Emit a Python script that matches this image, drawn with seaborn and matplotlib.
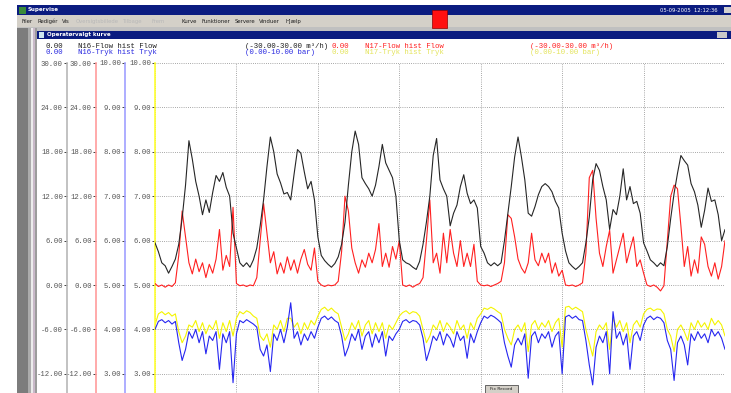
import numpy as np
import pandas as pd
import seaborn as sns
import matplotlib.pyplot as plt
from matplotlib.patches import Rectangle
from matplotlib.ticker import FormatStrFormatter

# ---- hourly trend samples, 7 days ----
# N16 flow, m3/h
n16_flow = ([5.7, 4.5, 3.0, 2.6, 1.6, 2.5, 3.5, 5.5, 9.0, 13.5, 19.5, 17.0, 14.0, 12.0, 9.5, 11.5, 9.8, 12.5, 14.8, 14.0, 15.2, 13.2, 12.0, 7.0, 5.0]
            + [3.0, 2.5, 3.0, 2.4, 3.4, 5.0, 8.0, 11.5, 16.0, 20.0, 18.0, 15.0, 13.8, 12.3, 12.5, 11.5, 15.0, 18.3, 17.8, 15.3, 13.0, 14.0, 11.5, 6.5]
            + [4.0, 3.3, 2.8, 2.4, 2.9, 3.8, 5.5, 8.5, 13.5, 18.0, 20.8, 19.0, 14.5, 13.7, 13.0, 12.0, 13.5, 16.0, 19.0, 16.5, 15.5, 14.5, 12.0, 6.0]
            + [3.4, 3.0, 2.8, 2.4, 2.1, 3.2, 5.5, 8.5, 12.0, 17.5, 19.8, 14.2, 13.0, 12.0, 8.0, 9.7, 10.8, 13.3, 14.9, 12.4, 11.0, 11.5, 10.4, 5.2]
            + [4.3, 3.0, 2.6, 3.0, 2.6, 3.0, 6.0, 9.7, 13.3, 17.3, 20.0, 17.3, 14.2, 9.7, 9.3, 10.6, 12.2, 13.3, 13.7, 13.3, 12.6, 11.3, 10.4, 7.0]
            + [4.6, 3.0, 2.5, 2.1, 2.5, 3.0, 5.7, 9.2, 14.2, 16.4, 15.5, 13.3, 11.5, 7.5, 10.2, 9.5, 12.0, 15.7, 11.5, 13.3, 11.0, 11.3, 9.7, 5.7]
            + [4.6, 3.4, 3.0, 2.5, 3.0, 2.6, 5.2, 9.0, 12.4, 15.1, 17.5, 16.8, 16.2, 13.7, 12.6, 10.8, 7.8, 10.1, 13.1, 11.3, 11.5, 9.5, 6.0, 7.5])

# N17 flow, m3/h
n17_flow = ([0.2, -0.2, 0.0, -0.3, 0.0, -0.2, 0.3, 4.0, 10.0, 6.5, 3.0, 1.5, 3.5, 1.8, 3.0, 1.0, 2.8, 1.6, 3.5, 7.5, 2.0, 4.0, 2.5, 10.5, 0.2]
            + [-0.1, 0.0, -0.2, 0.0, -0.1, 1.0, 6.0, 11.0, 7.0, 3.0, 4.5, 1.5, 3.0, 1.6, 3.8, 2.0, 3.4, 1.6, 3.5, 4.8, 2.8, 2.0, 5.0, 0.5]
            + [0.0, -0.2, 0.0, -0.1, 0.0, 0.5, 4.5, 12.0, 10.0, 5.0, 3.0, 1.6, 3.4, 2.4, 4.3, 3.0, 4.8, 8.3, 2.5, 4.3, 2.4, 5.2, 3.5, 6.0]
            + [0.0, -0.2, 0.0, -0.3, 0.0, 0.2, 1.0, 6.0, 11.5, 3.0, 4.3, 1.6, 7.0, 3.0, 7.5, 4.3, 2.5, 6.0, 2.5, 4.3, 2.5, 5.5, 0.5, 0.0]
            + [-0.1, 0.0, -0.2, 0.0, 0.2, 0.5, 3.0, 9.5, 9.0, 6.5, 3.5, 2.3, 1.6, 3.0, 7.0, 3.4, 2.6, 4.3, 3.0, 4.3, 1.6, 3.0, 1.2, 2.0]
            + [0.0, -0.1, 0.0, -0.2, 0.0, 0.3, 4.3, 14.5, 15.5, 9.0, 4.3, 2.5, 5.2, 7.4, 1.6, 3.4, 5.2, 7.0, 3.0, 4.8, 6.5, 2.5, 3.4, 1.6]
            + [0.0, -0.2, 0.0, -0.3, -0.8, -0.1, 6.0, 12.0, 13.5, 13.0, 8.0, 2.5, 5.2, 1.2, 3.4, 1.6, 6.5, 5.5, 2.5, 1.2, 3.0, 0.8, 2.5, 6.0])

# N16 pressure, bar
n16_tryk = ([4.00, 4.18, 4.22, 4.15, 4.20, 4.12, 4.18, 3.70, 3.30, 3.55, 3.95, 3.80, 4.00, 3.70, 3.95, 3.45, 3.85, 3.75, 3.95, 3.10, 3.90, 3.70, 3.95, 2.80, 3.90]
            + [4.20, 4.15, 4.22, 4.17, 4.12, 4.05, 3.55, 3.40, 3.65, 3.05, 3.90, 3.75, 4.00, 3.70, 4.05, 4.60, 3.80, 3.95, 3.65, 3.90, 3.75, 3.95, 3.80, 4.05]
            + [4.25, 4.30, 4.22, 4.28, 4.20, 4.15, 3.85, 3.40, 3.60, 3.90, 3.75, 4.00, 3.55, 3.85, 3.95, 3.60, 3.90, 3.70, 3.95, 3.40, 3.85, 3.75, 3.90, 4.00]
            + [4.18, 4.22, 4.15, 4.20, 4.18, 4.10, 3.80, 3.30, 3.55, 3.85, 3.75, 3.95, 3.65, 3.90, 3.80, 3.60, 3.95, 3.75, 3.85, 3.35, 3.90, 3.70, 3.95, 4.15]
            + [4.30, 4.25, 4.32, 4.28, 4.22, 4.15, 3.70, 3.40, 3.15, 3.65, 3.80, 3.65, 3.90, 2.90, 3.85, 3.95, 3.70, 3.90, 3.80, 3.95, 3.60, 3.85, 3.95, 3.00]
            + [4.28, 4.32, 4.25, 4.30, 4.22, 4.20, 3.75, 3.20, 2.75, 3.60, 3.85, 3.70, 3.95, 3.00, 4.40, 3.80, 3.95, 3.65, 3.90, 3.10, 3.85, 3.95, 3.75, 4.10]
            + [4.25, 4.30, 4.22, 4.28, 4.25, 4.15, 3.75, 3.55, 2.85, 3.70, 3.85, 3.65, 3.20, 3.90, 3.75, 3.95, 3.80, 3.90, 3.70, 4.00, 3.85, 3.95, 3.80, 3.55])

# N17 pressure, bar
n17_tryk = ([4.10, 4.35, 4.40, 4.33, 4.38, 4.30, 4.35, 3.95, 3.70, 3.85, 4.10, 4.05, 4.20, 3.95, 4.15, 3.90, 4.10, 4.00, 4.20, 3.80, 4.15, 3.95, 4.20, 3.85, 4.25]
            + [4.40, 4.35, 4.42, 4.38, 4.30, 4.25, 3.85, 3.75, 3.90, 3.60, 4.10, 4.00, 4.20, 3.95, 4.25, 4.25, 4.05, 4.15, 3.90, 4.15, 4.00, 4.20, 4.10, 4.30]
            + [4.45, 4.50, 4.42, 4.48, 4.40, 4.35, 4.05, 3.75, 3.90, 4.15, 4.00, 4.20, 3.85, 4.10, 4.20, 3.90, 4.15, 3.95, 4.15, 3.80, 4.10, 4.00, 4.15, 4.30]
            + [4.38, 4.42, 4.35, 4.40, 4.38, 4.30, 4.00, 3.70, 3.85, 4.10, 4.00, 4.20, 3.95, 4.15, 4.05, 3.90, 4.20, 4.00, 4.10, 3.80, 4.15, 4.00, 4.25, 4.35]
            + [4.48, 4.45, 4.50, 4.46, 4.40, 4.35, 4.00, 3.80, 3.65, 4.00, 4.10, 3.95, 4.15, 3.50, 4.10, 4.20, 4.00, 4.15, 4.05, 4.20, 3.95, 4.15, 4.25, 3.60]
            + [4.50, 4.52, 4.45, 4.50, 4.45, 4.40, 4.00, 3.70, 3.40, 3.95, 4.10, 4.00, 4.15, 3.55, 4.25, 4.05, 4.20, 3.95, 4.15, 3.70, 4.10, 4.20, 4.05, 4.35]
            + [4.45, 4.48, 4.42, 4.46, 4.45, 4.35, 4.00, 3.85, 3.50, 4.00, 4.10, 3.95, 3.75, 4.15, 4.00, 4.20, 4.05, 4.15, 4.00, 4.25, 4.10, 4.20, 4.10, 3.85])

menu_items = ["Filer", "Redigér", "Vis", "Kurve", "Funktioner", "Servere", "Vinduer", "Hjælp"]
menu_x = [21, 37, 62, 182, 202, 235, 259, 285]

df = pd.DataFrame({"hour": np.arange(len(n16_flow)),
                   "n16_flow": n16_flow, "n17_flow": n17_flow,
                   "n16_tryk": n16_tryk, "n17_tryk": n17_tryk})

sns.set_style("white")
plt.rcParams['font.family'] = ['Liberation Mono', 'DejaVu Sans Mono']

W, H = 731, 393
fig = plt.figure(figsize=(W / 100, H / 100), dpi=100)

# background layer in pixel coords: window chrome
bg = fig.add_axes([0, 0, 1, 1])
bg.set_xlim(0, W)
bg.set_ylim(H, 0)
bg.axis('off')


def box(a, x0, y0, x1, y1, fc, ec='none', lw=0):
    a.add_patch(Rectangle((x0, y0), x1 - x0, y1 - y0, facecolor=fc, edgecolor=ec, lw=lw))


navy = '#0b1c80'
box(bg, 17, 5, W, 15, navy)                       # main title bar
box(bg, 19, 6.5, 26, 13.5, '#3a8a3a')             # app icon
bg.text(28, 10, "Supervise", color='white', fontsize=4, fontweight='bold',
        family='DejaVu Sans', va='center')
bg.text(718, 10, "05-09-2005  12:12:36", color='white', fontsize=3.8,
        family='DejaVu Sans', va='center', ha='right')
box(bg, 724, 7, 731, 13, '#d0d0d0')
box(bg, 17, 15, W, 31, '#d4d0c8')                 # menu bar
for name, mx in zip(menu_items, menu_x):
    bg.text(mx, 21.5, name, fontsize=3.9, family='DejaVu Sans', va='center', color='#202020')
for name, mx in zip(["Oversigtsbillede", "Tilbage", "Frem"], [76, 122, 152]):
    bg.text(mx, 21.5, name, fontsize=3.9, family='DejaVu Sans', va='center', color='#b8b8b8')
box(bg, 17, 27, W, 31, '#c0c0c0')
box(bg, 17, 28, 28, H, '#7c7c7c')                 # left frame
box(bg, 28, 28, 31, H, '#ababab')
box(bg, 31, 28, 33, H, '#ececec')
box(bg, 33, 28, 35, H, '#c9b9c9')
box(bg, 35, 28, 37, H, '#9c9c9c')
box(bg, 37, 31, W, 38.5, navy)                    # child title bar
box(bg, 39, 32, 44, 37.5, '#cfe8f0')
bg.text(47, 34.8, "Operatørvalgt kurve", color='white', fontsize=4, fontweight='bold',
        family='DejaVu Sans', va='center')
box(bg, 717, 32, 727, 37.5, '#c8c8c8')
box(bg, 432, 10, 447, 28, '#ff1010', ec='#900000', lw=0.5)   # alarm box

# header lines with the curve names
hdr = [(46.5, '#202020', "N16-Flow hist Flow", "(-30.00-30.00 m³/h)"),
       (53.0, '#2a2ae0', "N16-Tryk hist Tryk", "(0.00-10.00 bar)")]
hdr2 = [(46.5, '#ff2020', "N17-Flow hist Flow", "(-30.00-30.00 m³/h)"),
        (53.0, '#e4e45c', "N17-Tryk hist Tryk", "(0.00-10.00 bar)")]
for (yy, c, name, rng), (_, c2, name2, rng2) in zip(hdr, hdr2):
    bg.text(45, yy, "0.00", color=c, fontsize=5.3, va='center')
    bg.text(78, yy, name, color=c, fontsize=5.3, va='center')
    bg.text(245, yy, rng, color=c, fontsize=5.3, va='center')
    bg.text(332, yy, "0.00", color=c2, fontsize=5.3, va='center')
    bg.text(365, yy, name2, color=c2, fontsize=5.3, va='center')
    bg.text(530, yy, rng2, color=c2, fontsize=5.3, va='center')

# ---- trend area: N17 pressure axis is the base (yellow) ----
ax = fig.add_axes([155 / W, 1 - 507 / H, 570 / W, 444 / H])
ax.set_facecolor('none')
sns.lineplot(data=df, x='hour', y='n17_tryk', ax=ax, color='#f4f400', lw=0.8)
ax.set_xlim(0, 168)
ax.set_ylim(0, 10)
ax.set_xticks(range(0, 169, 24))
ax.grid(True, color='#8a8a8a', linestyle=(0, (1, 1.6)), lw=0.6)
ax.tick_params(axis='x', length=0, labelbottom=False)
label_color = '#555555'


def style_axis(a, color, lim, first, step):
    # only the ticks that fall inside the visible part of the screen
    a.set_ylim(*lim)
    a.set_yticks(np.arange(first, lim[1] + step / 2, step))
    a.yaxis.set_major_formatter(FormatStrFormatter('%.2f'))
    a.tick_params(axis='y', left=True, right=False, labelleft=True, labelright=False,
                  length=2.5, width=0.7, color='#404040', labelsize=5.2,
                  labelcolor=label_color, pad=0.5, direction='out')
    for s in ['top', 'right', 'bottom']:
        a.spines[s].set_visible(False)
    a.spines['left'].set_visible(True)
    a.spines['left'].set_color(color)
    a.spines['left'].set_linewidth(1.2)
    a.set_xlabel('')
    a.set_ylabel('')


style_axis(ax, '#ffff30', (0, 10), 3, 1)

# extra scales to the left, one per curve
scales = [('n16_tryk', '#2626f0', '#a0a0ff', (0, 10), 3, 1, 30),
          ('n17_flow', '#ff2020', '#ff9c9c', (-30, 30), -12, 6, 59),
          ('n16_flow', '#262626', '#b8b8b8', (-30, 30), -12, 6, 88)]
for col, line_color, spine_color, lim, first, step, off in scales:
    t = ax.twinx()
    sns.lineplot(data=df, x='hour', y=col, ax=t, color=line_color, lw=0.8)
    t.yaxis.tick_left()
    t.spines['left'].set_position(('outward', off * 0.72))
    style_axis(t, spine_color, lim, first, step)
    t.set_xlim(0, 168)

# button overlapping the bottom of the trend
top = fig.add_axes([0, 0, 1, 1], zorder=10)
top.set_xlim(0, W)
top.set_ylim(H, 0)
top.axis('off')
box(top, 485, 385, 518, 393, '#d4d0c8', ec='#505050', lw=0.6)
top.text(501.5, 389, "Fix Record", fontsize=3.2, family='DejaVu Sans', ha='center',
         va='center', color='#202020')

fig.savefig('out.png', dpi=100)
